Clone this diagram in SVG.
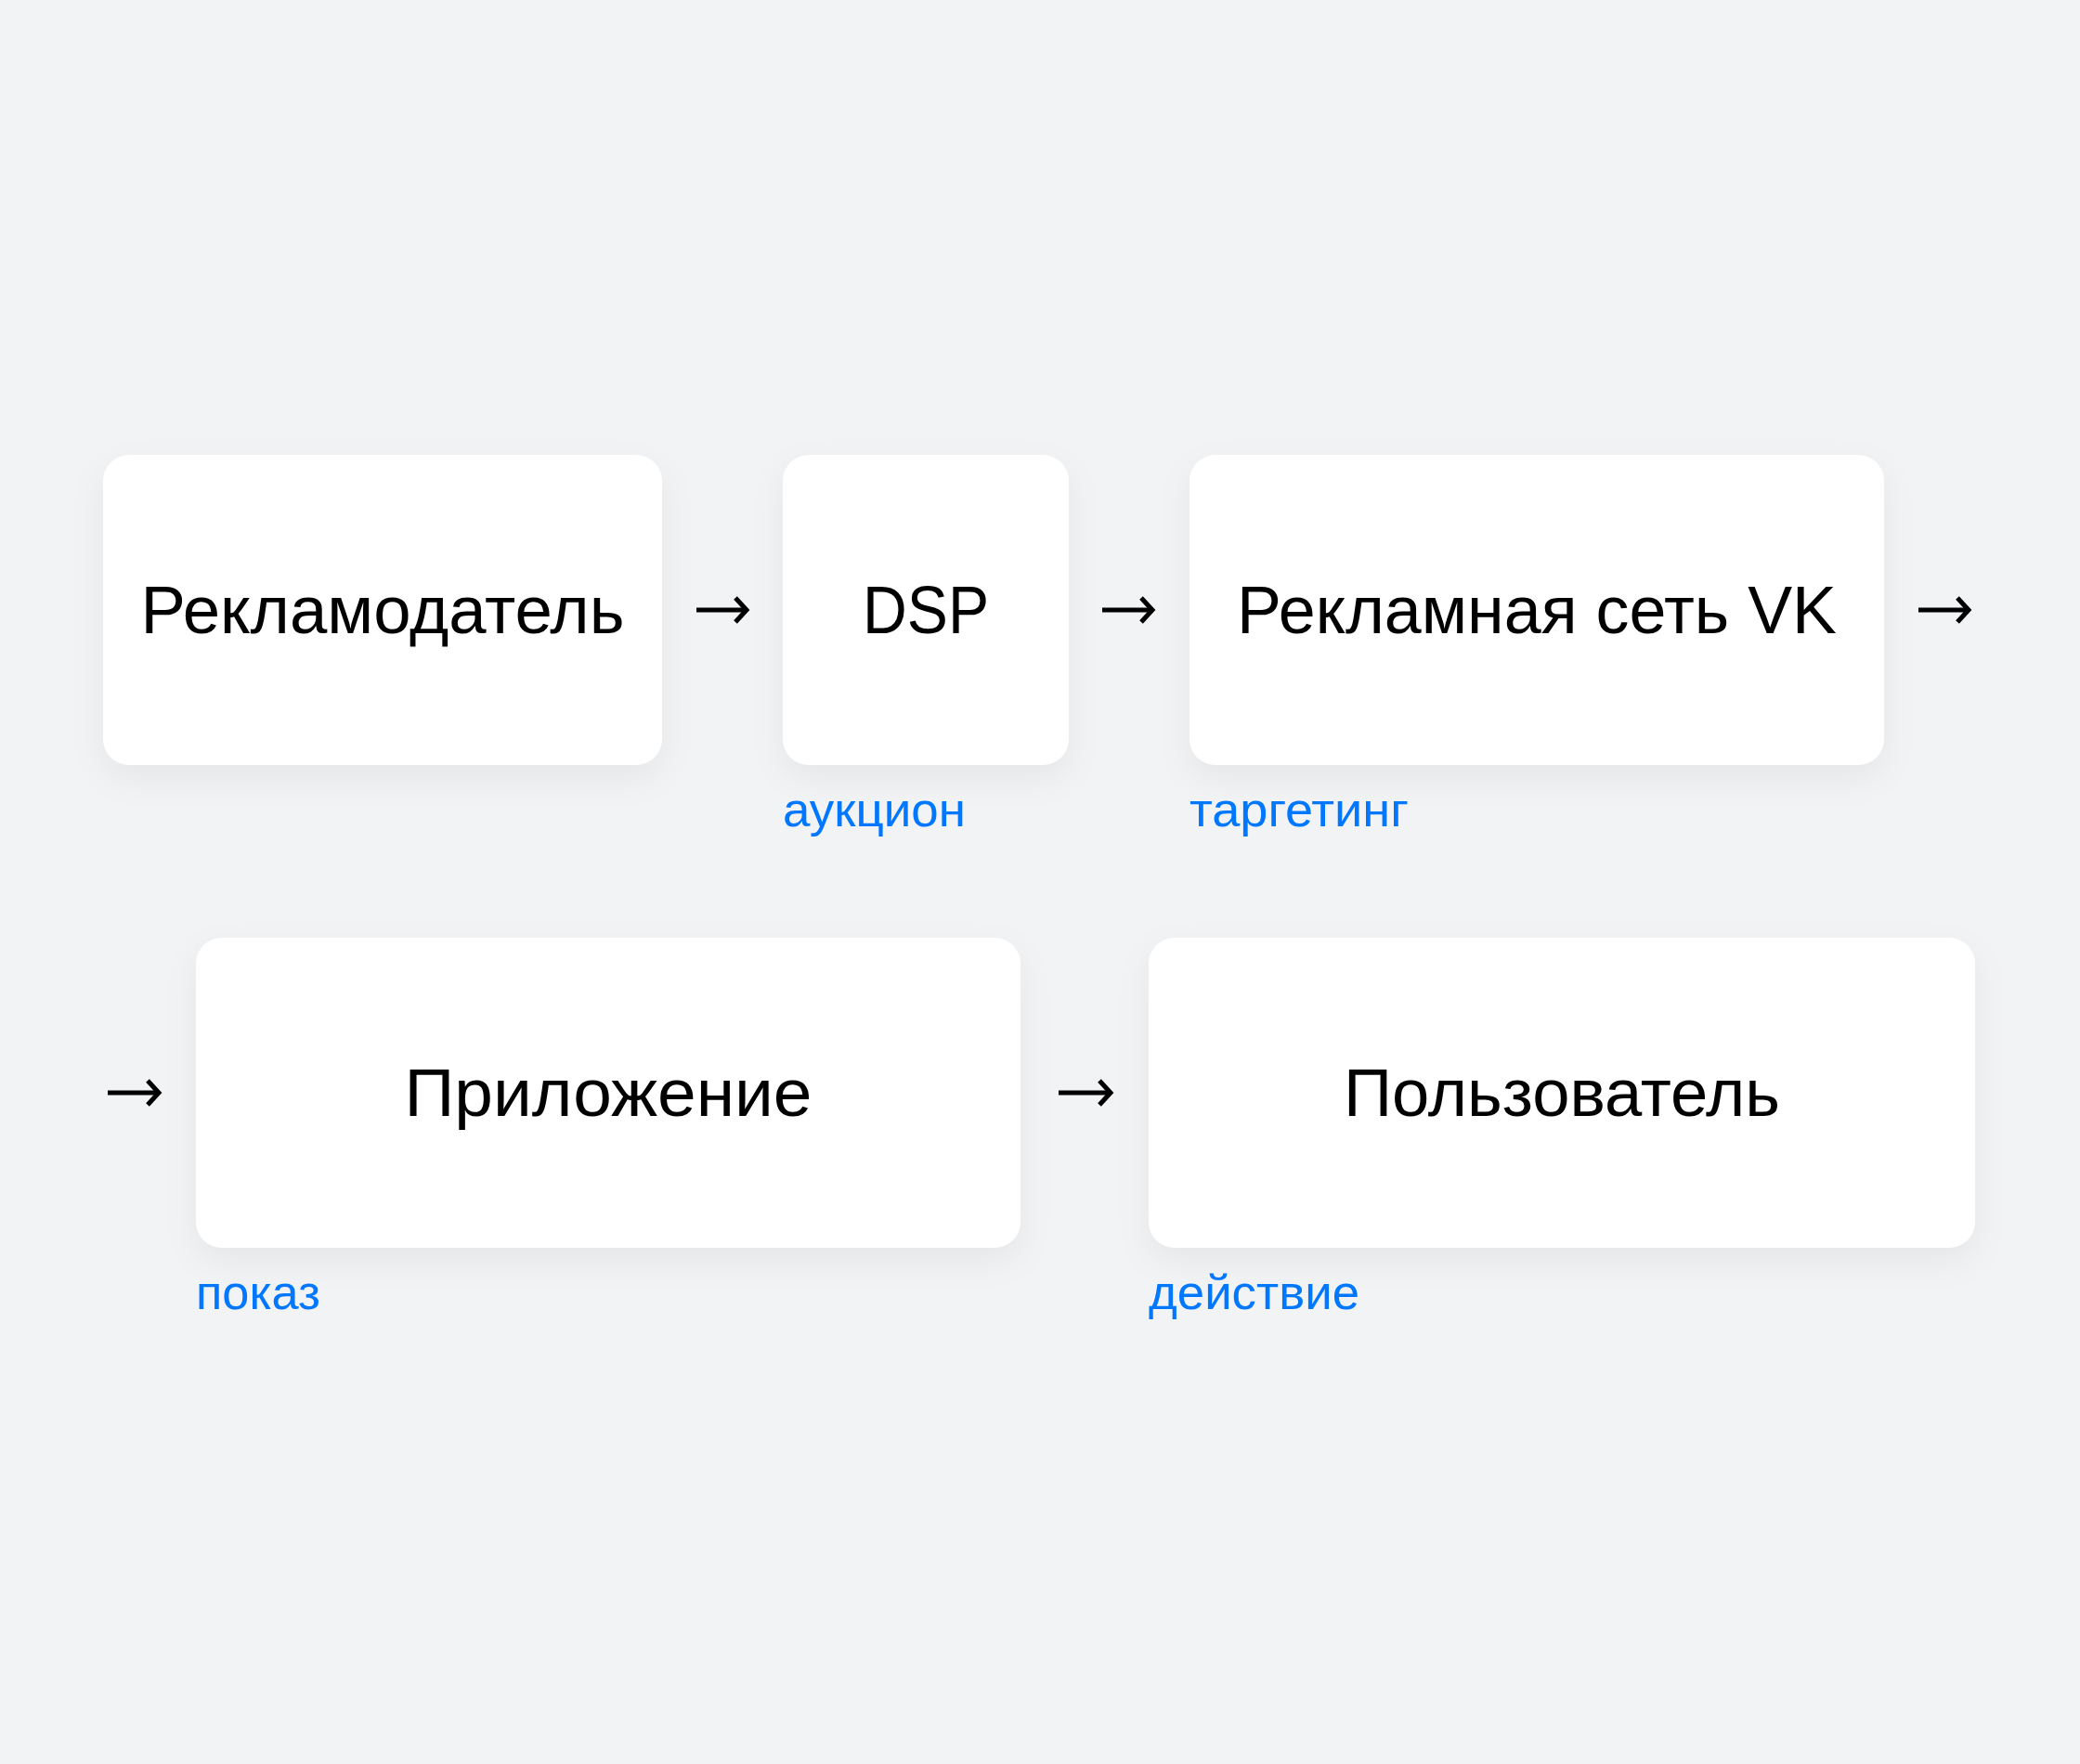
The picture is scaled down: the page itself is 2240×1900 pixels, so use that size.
<svg xmlns="http://www.w3.org/2000/svg" width="2240" height="1900" viewBox="0 0 2240 1900">
  <defs>
    <filter id="shadow" x="-20%" y="-20%" width="140%" height="160%">
      <feDropShadow dx="0" dy="14" stdDeviation="18" flood-color="#000000" flood-opacity="0.05"/>
    </filter>
    <marker id="head" viewBox="0 0 20 30" refX="16" refY="15" markerWidth="20" markerHeight="30" markerUnits="userSpaceOnUse" orient="auto">
      <path d="M4 2 L16 15 L4 28" fill="none" stroke="#000000" stroke-width="5" stroke-linecap="butt" stroke-linejoin="miter"/>
    </marker>
  </defs>
  <style>
    .box { fill: #FFFFFF; filter: url(#shadow); }
    .title { font-family: "Liberation Sans", Arial, sans-serif; font-size: 72px; fill: #000000; text-anchor: middle; }
    .note { font-family: "Liberation Sans", Arial, sans-serif; font-size: 52px; fill: #0077FF; }
    .arrow { fill: none; stroke: #000000; stroke-width: 5; marker-end: url(#head); }
  </style>
  <rect x="0" y="0" width="2240" height="1900" fill="#F2F3F5"/>

  <g id="node-advertiser">
    <rect class="box" x="111" y="490" width="602" height="334" rx="28"/>
    <text class="title" x="412" y="682" textLength="521" lengthAdjust="spacingAndGlyphs">Рекламодатель</text>
  </g>
  <g id="node-dsp">
    <rect class="box" x="843" y="490" width="308" height="334" rx="28"/>
    <text class="title" x="997" y="682" textLength="136" lengthAdjust="spacingAndGlyphs">DSP</text>
    <text class="note" x="843" y="890" textLength="197" lengthAdjust="spacingAndGlyphs">аукцион</text>
  </g>
  <g id="node-vk">
    <rect class="box" x="1281" y="490" width="748" height="334" rx="28"/>
    <text class="title" x="1655" y="682" textLength="646" lengthAdjust="spacingAndGlyphs">Рекламная сеть VK</text>
    <text class="note" x="1281" y="890" textLength="236" lengthAdjust="spacingAndGlyphs">таргетинг</text>
  </g>
  <g id="node-app">
    <rect class="box" x="211" y="1010" width="888" height="334" rx="28"/>
    <text class="title" x="655" y="1202" textLength="439" lengthAdjust="spacingAndGlyphs">Приложение</text>
    <text class="note" x="211" y="1410" textLength="134" lengthAdjust="spacingAndGlyphs">показ</text>
  </g>
  <g id="node-user">
    <rect class="box" x="1237" y="1010" width="890" height="334" rx="28"/>
    <text class="title" x="1682" y="1202" textLength="470" lengthAdjust="spacingAndGlyphs">Пользователь</text>
    <text class="note" x="1237" y="1410" textLength="227" lengthAdjust="spacingAndGlyphs">действие</text>
  </g>

  <g id="connectors">
    <path class="arrow" d="M750 657 H804"/>
    <path class="arrow" d="M1187 657 H1241"/>
    <path class="arrow" d="M2066 657 H2120"/>
    <path class="arrow" d="M116 1177 H171"/>
    <path class="arrow" d="M1140 1177 H1196"/>
  </g>
</svg>
